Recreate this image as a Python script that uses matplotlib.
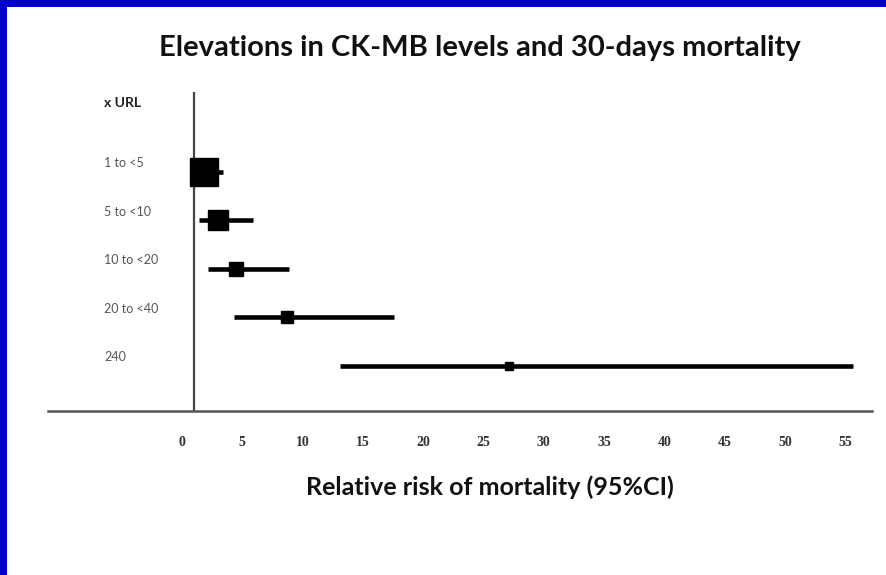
#!/usr/bin/env python3
"""Forest plot: CK-MB elevations and 30-day mortality."""

import matplotlib
matplotlib.use("Agg")
import matplotlib.pyplot as plt
import matplotlib.transforms as mtransforms
from matplotlib.patches import Rectangle

# Data
categories = ["1 to <5", "5 to <10", "10 to <20", "20 to <40", "240"]
relative_risk = [1.8, 3.0, 4.5, 8.7, 27.1]
ci_low = [1.0, 1.4, 2.2, 4.3, 13.1]
ci_high = [3.4, 5.9, 8.9, 17.6, 55.6]
x_ticks = [0, 5, 10, 15, 20, 25, 30, 35, 40, 45, 50, 55]

# Marker sizes (points), shrinking with row weight
marker_sizes = [20, 15, 9.5, 8, 6]

W, H = 886, 575
fig = plt.figure(figsize=(W / 100, H / 100), dpi=100)
fig.patch.set_facecolor("white")

# Blue frame (top and left)
fig.patches.append(Rectangle((0, 1 - 7 / H), 1, 7 / H, transform=fig.transFigure,
                             facecolor="#0000cc", edgecolor="none", zorder=10))
fig.patches.append(Rectangle((0, 0), 7 / W, 1, transform=fig.transFigure,
                             facecolor="#0000cc", edgecolor="none", zorder=10))

# Axes placed in pixel terms
ax_left, ax_right, ax_top, ax_bottom = 48, 872, 92, 411
ax = fig.add_axes([ax_left / W, 1 - ax_bottom / H,
                   (ax_right - ax_left) / W, (ax_bottom - ax_top) / H])

rows = list(range(1, len(categories) + 1))

for y, rr, lo, hi, ms in zip(rows, relative_risk, ci_low, ci_high, marker_sizes):
    ax.plot([lo, hi], [y, y], color="black", lw=3.3, solid_capstyle="butt", zorder=3)
    ax.plot(rr, y, marker="s", ms=ms, color="black", zorder=4)

# Reference line at RR = 1
ax.axvline(1, color="#444444", lw=1.6, zorder=2)

ax.set_xlim(-11.1, 57.2)
ax.set_ylim(5.93, -0.65)

for side in ["top", "right", "left"]:
    ax.spines[side].set_visible(False)
ax.spines["bottom"].set_color("#555555")
ax.spines["bottom"].set_linewidth(1.8)

ax.set_yticks([])
ax.set_xticks(x_ticks)
ax.set_xticklabels([str(t) for t in x_ticks], family="Liberation Serif",
                   fontweight="bold", fontsize=10, color="#333333")
ax.tick_params(axis="x", length=0, pad=18)

# Row labels, left aligned (x in figure coords, y in data coords)
label_trans = mtransforms.blended_transform_factory(fig.transFigure, ax.transData)
for y, label in zip(rows, categories):
    ax.text(104 / W, y - 0.18, label, transform=label_trans, ha="left",
            va="center", fontsize=9, color="#555555", family="Lato")

fig.text(104 / W, 1 - 103 / H, "x URL", ha="left", va="center",
         fontsize=10, fontweight="bold", color="#222222", family="Lato")

fig.text(480 / W, 1 - 48 / H, "Elevations in CK-MB levels and 30-days mortality",
         ha="center", va="center", fontsize=21, fontweight="bold",
         color="#111111", family="Lato")

fig.text(490 / W, 1 - 487 / H, "Relative risk of mortality (95%CI)",
         ha="center", va="center", fontsize=18, fontweight="bold",
         color="#111111", family="Lato")

fig.savefig("out.png", dpi=100, facecolor="white")
